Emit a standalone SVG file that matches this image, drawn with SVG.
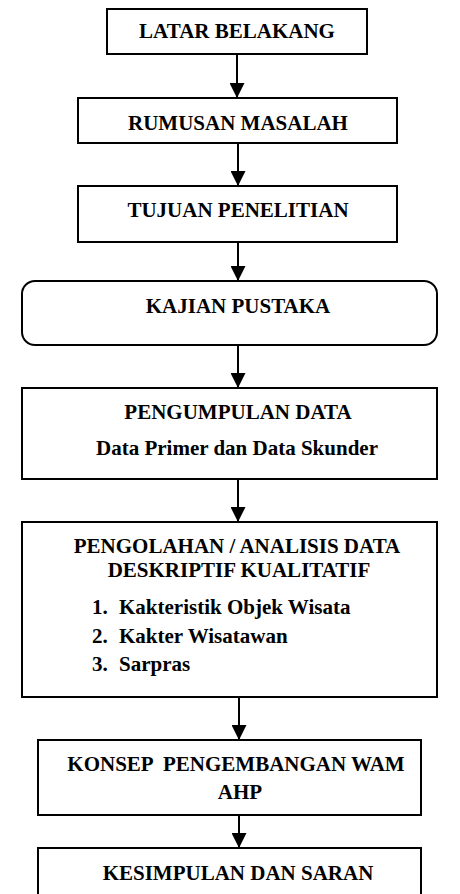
<svg xmlns="http://www.w3.org/2000/svg" width="460" height="894" viewBox="0 0 460 894">
<style>
.box{fill:#fff;stroke:#000;stroke-width:2}
.t{font-family:"Liberation Serif","Times New Roman",serif;font-weight:bold;font-size:21px;fill:#000}
.c{text-anchor:middle}
.conn line{stroke:#000;stroke-width:2}
</style>
<defs>
<marker id="ah" markerWidth="15" markerHeight="15" refX="15" refY="7.5" orient="auto" markerUnits="userSpaceOnUse">
<path d="M0,0 L15,7.5 L0,15 Z" fill="#000"/>
</marker>
</defs>
<rect width="460" height="894" fill="#fff"/>
<g id="conn" class="conn">
<line x1="237" y1="54" x2="237" y2="98" marker-end="url(#ah)"/>
<line x1="238" y1="143" x2="238" y2="186" marker-end="url(#ah)"/>
<line x1="238" y1="242" x2="238" y2="281" marker-end="url(#ah)"/>
<line x1="238" y1="345" x2="238" y2="388" marker-end="url(#ah)"/>
<line x1="238" y1="479" x2="238" y2="522" marker-end="url(#ah)"/>
<line x1="239" y1="697" x2="239" y2="740" marker-end="url(#ah)"/>
<line x1="239" y1="815" x2="239" y2="848" marker-end="url(#ah)"/>
</g>
<g id="n1"><rect class="box" x="107" y="9" width="260" height="45"/><text class="t c" x="237" y="38">LATAR BELAKANG</text></g>
<g id="n2"><rect class="box" x="78" y="98" width="319" height="45"/><text class="t c" x="238" y="130">RUMUSAN MASALAH</text></g>
<g id="n3"><rect class="box" x="78" y="186" width="319" height="56"/><text class="t c" x="238" y="217">TUJUAN PENELITIAN</text></g>
<g id="n4"><rect class="box" x="22" y="281" width="415" height="64" rx="13"/><text class="t c" x="238" y="313">KAJIAN PUSTAKA</text></g>
<g id="n5"><rect class="box" x="22" y="388" width="415" height="91"/><text class="t c" x="238" y="419">PENGUMPULAN DATA</text><text class="t c" x="237" y="455">Data Primer dan Data Skunder</text></g>
<g id="n6"><rect class="box" x="22" y="522" width="415" height="175"/><text class="t c" x="237" y="553">PENGOLAHAN / ANALISIS DATA</text><text class="t c" x="239" y="577">DESKRIPTIF KUALITATIF</text>
<text class="t" x="92" y="614">1.</text><text class="t" x="119" y="614">Kakteristik Objek Wisata</text>
<text class="t" x="92" y="643">2.</text><text class="t" x="119" y="643">Kakter Wisatawan</text>
<text class="t" x="92" y="671">3.</text><text class="t" x="119" y="671">Sarpras</text></g>
<g id="n7"><rect class="box" x="38" y="740" width="383" height="75"/><text class="t c" x="236" y="771" xml:space="preserve">KONSEP  PENGEMBANGAN WAM</text><text class="t c" x="240" y="799">AHP</text></g>
<g id="n8"><rect class="box" x="38" y="848" width="383" height="60"/><text class="t c" x="238" y="880">KESIMPULAN DAN SARAN</text></g>
</svg>
